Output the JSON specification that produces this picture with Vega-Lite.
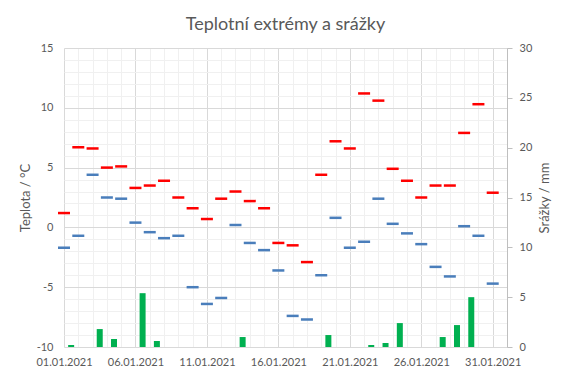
{
  "$schema": "https://vega.github.io/schema/vega-lite/v6.json",
  "width": 443,
  "height": 299,
  "autosize": {"type": "none"},
  "padding": {"left": 64, "top": 48, "right": 61, "bottom": 31},
  "background": "white",
  "title": {"text": "Teplotní extrémy a srážky", "font": "Lato", "fontSize": 18, "fontWeight": "normal", "color": "#595959", "offset": 8, "anchor": "middle"},
  "data": {"values": [
    {"datum": "2021-01-01", "tmax": 1.2, "tmin": -1.7, "srazky": 0.2},
    {"datum": "2021-01-02", "tmax": 6.7, "tmin": -0.7, "srazky": 0},
    {"datum": "2021-01-03", "tmax": 6.6, "tmin": 4.4, "srazky": 1.8},
    {"datum": "2021-01-04", "tmax": 5.0, "tmin": 2.5, "srazky": 0.8},
    {"datum": "2021-01-05", "tmax": 5.1, "tmin": 2.4, "srazky": 0},
    {"datum": "2021-01-06", "tmax": 3.3, "tmin": 0.4, "srazky": 5.4},
    {"datum": "2021-01-07", "tmax": 3.5, "tmin": -0.4, "srazky": 0.6},
    {"datum": "2021-01-08", "tmax": 3.9, "tmin": -0.9, "srazky": 0},
    {"datum": "2021-01-09", "tmax": 2.5, "tmin": -0.7, "srazky": 0},
    {"datum": "2021-01-10", "tmax": 1.6, "tmin": -5.0, "srazky": 0},
    {"datum": "2021-01-11", "tmax": 0.7, "tmin": -6.4, "srazky": 0},
    {"datum": "2021-01-12", "tmax": 2.4, "tmin": -5.9, "srazky": 0},
    {"datum": "2021-01-13", "tmax": 3.0, "tmin": 0.2, "srazky": 1.0},
    {"datum": "2021-01-14", "tmax": 2.2, "tmin": -1.3, "srazky": 0},
    {"datum": "2021-01-15", "tmax": 1.6, "tmin": -1.9, "srazky": 0},
    {"datum": "2021-01-16", "tmax": -1.3, "tmin": -3.6, "srazky": 0},
    {"datum": "2021-01-17", "tmax": -1.5, "tmin": -7.4, "srazky": 0},
    {"datum": "2021-01-18", "tmax": -2.9, "tmin": -7.7, "srazky": 0},
    {"datum": "2021-01-19", "tmax": 4.4, "tmin": -4.0, "srazky": 1.2},
    {"datum": "2021-01-20", "tmax": 7.2, "tmin": 0.8, "srazky": 0},
    {"datum": "2021-01-21", "tmax": 6.6, "tmin": -1.7, "srazky": 0},
    {"datum": "2021-01-22", "tmax": 11.2, "tmin": -1.2, "srazky": 0.2},
    {"datum": "2021-01-23", "tmax": 10.6, "tmin": 2.4, "srazky": 0.4},
    {"datum": "2021-01-24", "tmax": 4.9, "tmin": 0.3, "srazky": 2.4},
    {"datum": "2021-01-25", "tmax": 3.9, "tmin": -0.5, "srazky": 0},
    {"datum": "2021-01-26", "tmax": 2.5, "tmin": -1.4, "srazky": 0},
    {"datum": "2021-01-27", "tmax": 3.5, "tmin": -3.3, "srazky": 1.0},
    {"datum": "2021-01-28", "tmax": 3.5, "tmin": -4.1, "srazky": 2.2},
    {"datum": "2021-01-29", "tmax": 7.9, "tmin": 0.1, "srazky": 5.0},
    {"datum": "2021-01-30", "tmax": 10.3, "tmin": -0.7, "srazky": 0},
    {"datum": "2021-01-31", "tmax": 2.9, "tmin": -4.7, "srazky": 0}
  ]},
  "layer": [
    {
      "transform": [{"fold": ["tmax", "tmin"], "as": ["typ", "teplota"]}],
      "mark": {"type": "tick", "orient": "horizontal", "size": 12, "thickness": 2.5, "opacity": 1},
      "encoding": {
        "x": {"field": "datum", "type": "temporal",
          "scale": {"type": "utc", "domain": [{"year": 2021, "month": 1, "date": 1, "utc": true}, {"year": 2021, "month": 2, "date": 1, "utc": true}]},
          "axis": {"title": null, "tickCount": {"interval": "day", "step": 1}, "ticks": false, "domain": false, "grid": true,
            "gridColor": {"condition": {"test": "utcdate(datum.value) % 5 == 1", "value": "#D9D9D9"}, "value": "#F0F0F0"},
            "labelExpr": "(utcdate(datum.value) % 5 == 1 && utcmonth(datum.value) == 0) ? utcFormat(datum.value, '%d.%m.%Y') : ''",
            "labelOverlap": false, "labelFlush": false, "labelPadding": 9, "labelFont": "Lato", "labelFontSize": 11, "labelColor": "#595959"}},
        "y": {"field": "teplota", "type": "quantitative",
          "scale": {"domain": [-10, 15], "nice": false, "zero": false},
          "axis": {"title": "Teplota / °C", "values": [-10,-9,-8,-7,-6,-5,-4,-3,-2,-1,0,1,2,3,4,5,6,7,8,9,10,11,12,13,14,15],
            "ticks": false, "domain": false, "grid": true,
            "gridColor": {"condition": {"test": "datum.value % 5 == 0", "value": "#D9D9D9"}, "value": "#F0F0F0"},
            "labelExpr": "datum.value % 5 == 0 ? '' + datum.value : ''",
            "labelOverlap": false, "labelPadding": 11, "labelFont": "Lato", "labelFontSize": 11, "labelColor": "#595959",
            "titleFont": "Lato", "titleFontSize": 13, "titleFontWeight": "normal", "titleColor": "#595959", "titlePadding": 4}},
        "color": {"field": "typ", "type": "nominal", "scale": {"domain": ["tmax", "tmin"], "range": ["#FF0000", "#4A7EBB"]}, "legend": null}
      }
    },
    {
      "mark": {"type": "bar", "color": "#00B050", "width": 6},
      "encoding": {
        "x": {"field": "datum", "type": "temporal", "timeUnit": "utcyearmonthdate", "bandPosition": 0.5, "title": null},
        "y": {"field": "srazky", "type": "quantitative",
          "scale": {"domain": [0, 30], "nice": false},
          "axis": {"orient": "right", "title": "Srážky / mm", "values": [0,5,10,15,20,25,30], "grid": false,
            "ticks": true, "tickSize": 5, "tickColor": "#BFBFBF", "domain": true, "domainColor": "#BFBFBF",
            "labelPadding": 7, "labelFont": "Lato", "labelFontSize": 11, "labelColor": "#595959",
            "titleAngle": -90, "titleBaseline": "top", "titleFont": "Lato", "titleFontSize": 13, "titleFontWeight": "normal", "titleColor": "#595959", "titlePadding": 7}}
      }
    }
  ],
  "resolve": {"scale": {"y": "independent"}},
  "config": {"view": {"stroke": null}}
}
